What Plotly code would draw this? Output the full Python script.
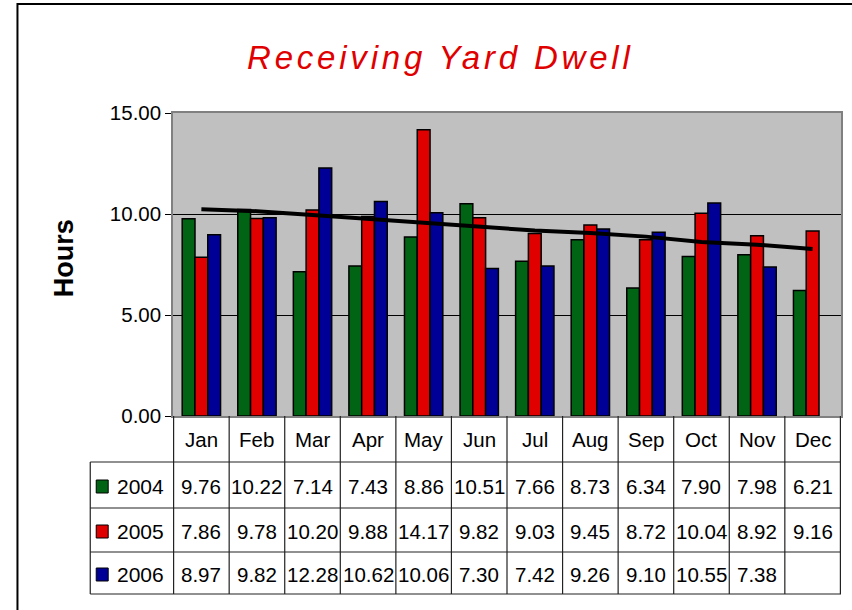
import plotly.graph_objects as go

months = ["Jan", "Feb", "Mar", "Apr", "May", "Jun", "Jul", "Aug", "Sep", "Oct", "Nov", "Dec"]
years = ["2004", "2005", "2006"]
v2004 = [9.76, 10.22, 7.14, 7.43, 8.86, 10.51, 7.66, 8.73, 6.34, 7.90, 7.98, 6.21]
v2005 = [7.86, 9.78, 10.20, 9.88, 14.17, 9.82, 9.03, 9.45, 8.72, 10.04, 8.92, 9.16]
v2006 = [8.97, 9.82, 12.28, 10.62, 10.06, 7.30, 7.42, 9.26, 9.10, 10.55, 7.38, None]
trend = [10.23, 10.14, 9.95, 9.76, 9.58, 9.40, 9.18, 9.06, 8.88, 8.62, 8.48, 8.27]
colors = ["#006414", "#E00000", "#000096"]
series = [v2004, v2005, v2006]

FONT = "Liberation Sans, Arial, sans-serif"
W, H = 852, 610
L, R, T, B = 173, 843, 113, 416
pw, ph = R - L, B - T

def px_x(p):
    return (p - L) / pw

def px_y(p):
    return (B - p) / ph

fig = go.Figure()
for name, vals, c in zip(years, series, colors):
    fig.add_trace(go.Bar(x=months, y=vals, name=name, marker=dict(color=c, line=dict(color="black", width=1.5))))
fig.add_trace(go.Scatter(x=months, y=trend, mode="lines", line=dict(color="black", width=4), showlegend=False))

shapes = []
annotations = []
line_col = "#222222"

shapes.append(dict(type="rect", xref="paper", yref="paper", x0=px_x(17), x1=px_x(900), y0=px_y(700), y1=px_y(4),
                   line=dict(color="black", width=2), layer="above"))

row_lines = [462, 508, 552, 594]
for ry in row_lines:
    shapes.append(dict(type="line", xref="paper", yref="paper", x0=px_x(90), x1=1, y0=px_y(ry), y1=px_y(ry),
                       line=dict(color=line_col, width=1.2)))
for i in range(len(months) + 1):
    shapes.append(dict(type="line", xref="x", yref="paper", x0=i - 0.5, x1=i - 0.5, y0=0, y1=px_y(594),
                       line=dict(color=line_col, width=1.2)))
shapes.append(dict(type="line", xref="paper", yref="paper", x0=px_x(90), x1=px_x(90), y0=px_y(462), y1=px_y(594),
                   line=dict(color=line_col, width=1.2)))

row_centers = [486, 531, 574]
for m in months:
    annotations.append(dict(x=m, xref="x", y=px_y(439), yref="paper", text=m, showarrow=False,
                            font=dict(size=20.5, color="black", family=FONT), xanchor="center", yanchor="middle"))
for yr, vals, c, rc in zip(years, series, colors, row_centers):
    shapes.append(dict(type="rect", xref="paper", yref="paper", x0=px_x(96), x1=px_x(108), y0=px_y(rc + 7), y1=px_y(rc - 6),
                       fillcolor=c, line=dict(color="black", width=1)))
    annotations.append(dict(x=px_x(115), xref="paper", y=px_y(rc), yref="paper", text=yr, showarrow=False,
                            font=dict(size=21, color="black", family=FONT), xanchor="left", yanchor="middle"))
    for m, v in zip(months, vals):
        if v is None:
            continue
        annotations.append(dict(x=m, xref="x", y=px_y(rc), yref="paper", text=f"{v:.2f}", showarrow=False,
                                font=dict(size=20.5, color="black", family=FONT), xanchor="center", yanchor="middle"))

annotations.append(dict(x=px_x(441), xref="paper", y=px_y(58), yref="paper",
                        text="<span style='letter-spacing:3.8px'><i>Receiving Yard Dwell</i></span>",
                        showarrow=False, font=dict(size=33, color="#E00000", family=FONT), xanchor="center", yanchor="middle"))
annotations.append(dict(x=px_x(64), xref="paper", y=px_y(258), yref="paper", text="<b>Hours</b>", textangle=-90,
                        showarrow=False, font=dict(size=27, color="black", family=FONT), xanchor="center", yanchor="middle"))

fig.update_layout(
    width=W, height=H,
    margin=dict(l=L, r=W - R, t=T, b=H - B, pad=0),
    paper_bgcolor="white", plot_bgcolor="#C0C0C0",
    barmode="group", bargap=0.31, bargroupgap=0,
    showlegend=False,
    shapes=shapes, annotations=annotations,
    font=dict(family=FONT, size=20, color="black"),
)
fig.update_xaxes(showticklabels=False, showgrid=False, zeroline=False, showline=True, linecolor="#808080", linewidth=1.5,
                 mirror=True, ticks="")
fig.update_yaxes(range=[0, 15], dtick=5, tickformat=".2f", showgrid=True, gridcolor="black", gridwidth=1,
                 zeroline=False, showline=True, linecolor="#808080", linewidth=1.5, mirror=True,
                 ticks="outside", ticklen=6, tickcolor="black", tickfont=dict(size=20.5, family=FONT, color="black"))

fig.write_html("out.html", config={"displayModeBar": False},
               post_script="document.body.style.margin='0px';document.body.style.overflow='hidden';")
